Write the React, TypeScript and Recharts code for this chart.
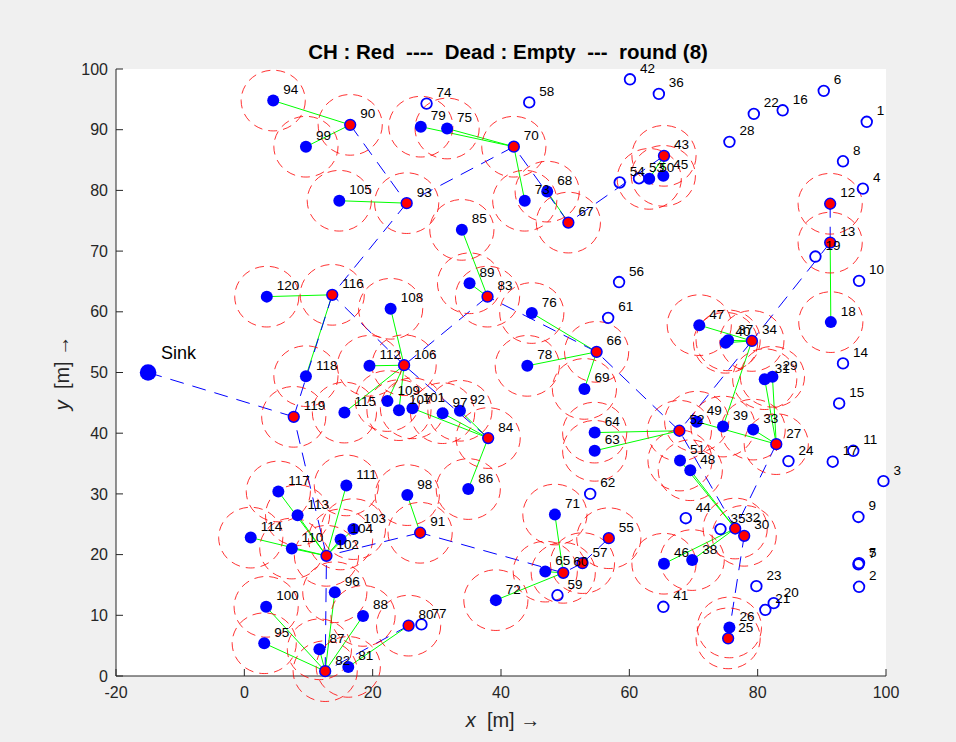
import React from 'react';
import { ScatterChart, Scatter, XAxis, YAxis, ReferenceLine, CartesianGrid } from 'recharts';

// node positions, index = node id - 1
const NODE_X = [
  97.0, 95.8, 99.6, 96.4, 95.8, 90.3, 95.7, 93.3, 95.7, 95.8,
  94.9, 91.3, 91.3, 93.3, 92.7, 83.9, 91.7, 91.4, 89.0, 82.5,
  81.2, 79.4, 79.8, 84.8, 75.4, 75.6, 82.9, 75.6, 82.3, 77.9,
  81.1, 76.5, 79.3, 79.1, 74.2, 64.6, 75.4, 69.8, 74.6, 75.0,
  65.3, 60.1, 65.4, 68.8, 65.3, 65.4, 70.9, 69.5, 70.5, 63.1,
  67.9, 67.8, 61.5, 58.5, 56.8, 58.4, 52.7, 44.4, 48.8, 49.7,
  56.7, 53.9, 54.6, 54.6, 46.9, 54.9, 50.5, 47.2, 53.0, 42.0,
  48.4, 39.2, 43.7, 28.4, 31.6, 44.8, 27.6, 44.1, 27.5, 25.6,
  16.2, 12.6, 37.9, 38.0, 33.9, 34.9, 11.7, 18.5, 35.1, 16.5,
  27.4, 33.6, 25.3, 4.5, 3.1, 14.1, 30.9, 25.4, 9.6, 3.4,
  26.2, 12.8, 17.0, 15.0, 14.8, 24.9, 24.1, 22.8, 22.3, 7.4,
  15.9, 19.5, 8.3, 1.0, 15.6, 13.7, 5.3, 9.6, 7.7, 3.5,
];
const NODE_Y = [
  91.3, 14.7, 32.1, 80.3, 18.6, 96.4, 18.4, 84.8, 26.2, 65.1,
  37.1, 77.8, 71.4, 51.5, 44.9, 93.2, 35.3, 58.3, 69.1, 12.0,
  10.9, 92.6, 14.8, 35.4, 6.2, 8.0, 38.2, 88.0, 49.3, 23.1,
  48.9, 24.3, 40.6, 55.2, 24.2, 95.9, 55.3, 19.1, 41.1, 54.9,
  11.4, 98.3, 85.7, 26.0, 82.4, 18.5, 57.8, 33.9, 41.9, 81.9,
  35.5, 40.4, 82.0, 81.3, 22.7, 64.9, 18.6, 94.5, 13.3, 17.0,
  59.0, 30.0, 37.1, 40.1, 17.2, 53.4, 74.7, 79.8, 47.3, 87.2,
  26.6, 12.5, 78.3, 94.3, 90.2, 59.8, 8.5, 51.1, 90.5, 8.3,
  1.5, 0.8, 62.5, 39.2, 73.5, 30.8, 4.4, 9.9, 64.7, 90.8,
  23.6, 43.7, 77.9, 94.8, 5.4, 13.8, 43.3, 29.8, 87.2, 11.4,
  44.1, 19.8, 24.2, 22.5, 78.3, 51.2, 43.8, 60.5, 45.3, 21.0,
  31.4, 51.1, 26.5, 22.8, 43.4, 62.8, 30.4, 49.4, 42.7, 62.5,
];

const DEAD_NODES = [
  1, 2, 3, 4, 5, 6, 7, 8, 9, 10, 11, 14, 15, 16, 17, 19, 20, 21, 22, 23,
  24, 28, 35, 36, 41, 42, 44, 53, 54, 56, 58, 59, 61, 62, 74, 77,
];
const HEAD_NODES = [
  12, 13, 25, 27, 30, 32, 34, 43, 52, 55, 57, 60, 66, 67, 70, 80, 82, 83,
  84, 90, 91, 93, 102, 106, 116, 119,
];

// member -> cluster head
const MEMBER_LINKS: [number, number][] = [
  [94, 90], [99, 90], [105, 93], [79, 70], [75, 70], [73, 70], [68, 67],
  [50, 43], [45, 43], [85, 83], [89, 83], [76, 66], [78, 66], [69, 66],
  [120, 116], [118, 116], [108, 106], [112, 106], [115, 106], [109, 106],
  [107, 106], [101, 84], [97, 84], [92, 84], [86, 84], [47, 34], [40, 34],
  [37, 34], [39, 34], [64, 52], [63, 52], [49, 27], [33, 27], [31, 27],
  [29, 27], [51, 32], [48, 32], [46, 32], [38, 32], [26, 25], [18, 13],
  [117, 102], [113, 102], [114, 102], [110, 102], [111, 102], [104, 102],
  [103, 102], [98, 91], [100, 82], [95, 82], [87, 82], [96, 82], [88, 82],
  [81, 80], [71, 60], [65, 60], [72, 60],
];
// cluster head -> next hop (0 = sink)
const HEAD_LINKS: [number, number][] = [
  [119, 0], [116, 119], [102, 119], [93, 116], [90, 93], [70, 93], [67, 70],
  [43, 67], [106, 116], [83, 106], [84, 106], [66, 83], [52, 66], [34, 52],
  [13, 34], [12, 13], [27, 32], [32, 52], [30, 32], [25, 30], [91, 102],
  [60, 91], [57, 60], [55, 57], [80, 82], [82, 102],
];

const SINK_X = -15;
const SINK_Y = 50;
const RANGE = 5;

const X_TICKS = [-20, 0, 20, 40, 60, 80, 100];
const Y_TICKS = [0, 10, 20, 30, 40, 50, 60, 70, 80, 90, 100];

const W = 956;
const H = 742;
const PLOT_W = 770;
const PLOT_H = 607;
const FONT = '"Liberation Sans", Helvetica, Arial, sans-serif';
const AXIS = '#262626';

const pos = (id: number) =>
  id === 0 ? { x: SINK_X, y: SINK_Y } : { x: NODE_X[id - 1], y: NODE_Y[id - 1] };

const nodes = NODE_X.map((x, i) => ({ id: i + 1, x, y: NODE_Y[i] }));
const deadData = nodes.filter((n) => DEAD_NODES.includes(n.id));
const headData = nodes.filter((n) => HEAD_NODES.includes(n.id));
const aliveData = nodes.filter((n) => !DEAD_NODES.includes(n.id) && !HEAD_NODES.includes(n.id));
const rangeData = nodes.filter((n) => !DEAD_NODES.includes(n.id));
const sinkData = [{ id: 0, x: SINK_X, y: SINK_Y }];

const RangeShape = (p: any) => (
  <ellipse
    cx={p.cx}
    cy={p.cy}
    rx={(RANGE * PLOT_W) / 120}
    ry={(RANGE * PLOT_H) / 100}
    fill="none"
    stroke="#ff0000"
    strokeOpacity={0.8}
    strokeWidth={1}
    strokeDasharray="9 6"
  />
);
const AliveShape = (p: any) => <circle cx={p.cx} cy={p.cy} r={6} fill="#0000ff" />;
const DeadShape = (p: any) => (
  <circle cx={p.cx} cy={p.cy} r={5.3} fill="none" stroke="#0000ff" strokeWidth={1.8} />
);
const HeadShape = (p: any) => (
  <circle cx={p.cx} cy={p.cy} r={5.4} fill="#ff0000" stroke="#0000ff" strokeWidth={1.5} />
);
const SinkShape = (p: any) => <circle cx={p.cx} cy={p.cy} r={8.3} fill="#0000ff" />;
const LabelShape = (p: any) => (
  <text x={p.cx + 10} y={p.cy - 11} fontSize={13.5} fontFamily={FONT} fill="#000" dominantBaseline="central">
    {p.payload.id}
  </text>
);
const SinkLabel = (p: any) => (
  <text x={p.cx + 13} y={p.cy - 20} fontSize={18} fontFamily={FONT} fill="#000" dominantBaseline="central">
    Sink
  </text>
);

export default function App() {
  return (
    <div style={{ position: 'absolute', left: 0, top: 0, width: W, height: H, background: '#f0f0f0', fontFamily: FONT }}>
      <ScatterChart width={W} height={H} margin={{ top: 69, right: 70, bottom: 36, left: 76 }}>
        <CartesianGrid fill="#ffffff" horizontal={false} vertical={false} stroke="none" />
        <XAxis
          type="number"
          dataKey="x"
          domain={[-20, 100]}
          ticks={X_TICKS}
          interval={0}
          height={30}
          tickSize={-7}
          tickMargin={18}
          stroke={AXIS}
          tick={{ fill: AXIS, fontSize: 16, fontFamily: FONT }}
        />
        <XAxis
          xAxisId="top"
          orientation="top"
          type="number"
          domain={[-20, 100]}
          ticks={X_TICKS}
          interval={0}
          height={0}
          tickSize={-7}
          stroke={AXIS}
          tick={false}
        />
        <YAxis
          type="number"
          dataKey="y"
          domain={[0, 100]}
          ticks={Y_TICKS}
          interval={0}
          width={40}
          tickSize={-7}
          tickMargin={15}
          stroke={AXIS}
          tick={{ fill: AXIS, fontSize: 16, fontFamily: FONT }}
        />
        <YAxis
          yAxisId="right"
          orientation="right"
          type="number"
          domain={[0, 100]}
          ticks={Y_TICKS}
          interval={0}
          width={0}
          tickSize={-7}
          stroke={AXIS}
          tick={false}
        />
        <Scatter data={rangeData} shape={RangeShape} isAnimationActive={false} />
        <Scatter data={deadData} shape={DeadShape} isAnimationActive={false} />
        <Scatter data={aliveData} shape={AliveShape} isAnimationActive={false} />
        <Scatter data={headData} shape={HeadShape} isAnimationActive={false} />
        <Scatter data={sinkData} shape={SinkShape} isAnimationActive={false} />
        {MEMBER_LINKS.map(([a, b]) => (
          <ReferenceLine
            key={`m${a}`}
            segment={[pos(a), pos(b)]}
            stroke="#00ff00"
            strokeWidth={1}
            ifOverflow="visible"
          />
        ))}
        {HEAD_LINKS.map(([a, b]) => (
          <ReferenceLine
            key={`h${a}`}
            segment={[pos(a), pos(b)]}
            stroke="#0000ff"
            strokeWidth={1}
            strokeDasharray="14 9"
            ifOverflow="visible"
          />
        ))}
        <Scatter data={nodes} shape={LabelShape} isAnimationActive={false} />
        <Scatter data={sinkData} shape={SinkLabel} isAnimationActive={false} />
      </ScatterChart>

      <div
        style={{
          position: 'absolute', left: 508, top: 52, transform: 'translate(-50%, -50%)',
          whiteSpace: 'pre', fontWeight: 'bold', fontSize: 20.5, color: '#000',
        }}
      >
        {'CH : Red  ----  Dead : Empty  ---  round (8)'}
      </div>
      <div
        style={{
          position: 'absolute', left: 503, top: 720, transform: 'translate(-50%, -50%)',
          whiteSpace: 'pre', fontSize: 20, color: AXIS,
        }}
      >
        <i>x</i>{'  [m] →'}
      </div>
      <div
        style={{
          position: 'absolute', left: 62, top: 373, transform: 'translate(-50%, -50%) rotate(-90deg)',
          whiteSpace: 'pre', fontSize: 20, color: AXIS,
        }}
      >
        <i>y</i>{'  [m] →'}
      </div>
    </div>
  );
}
